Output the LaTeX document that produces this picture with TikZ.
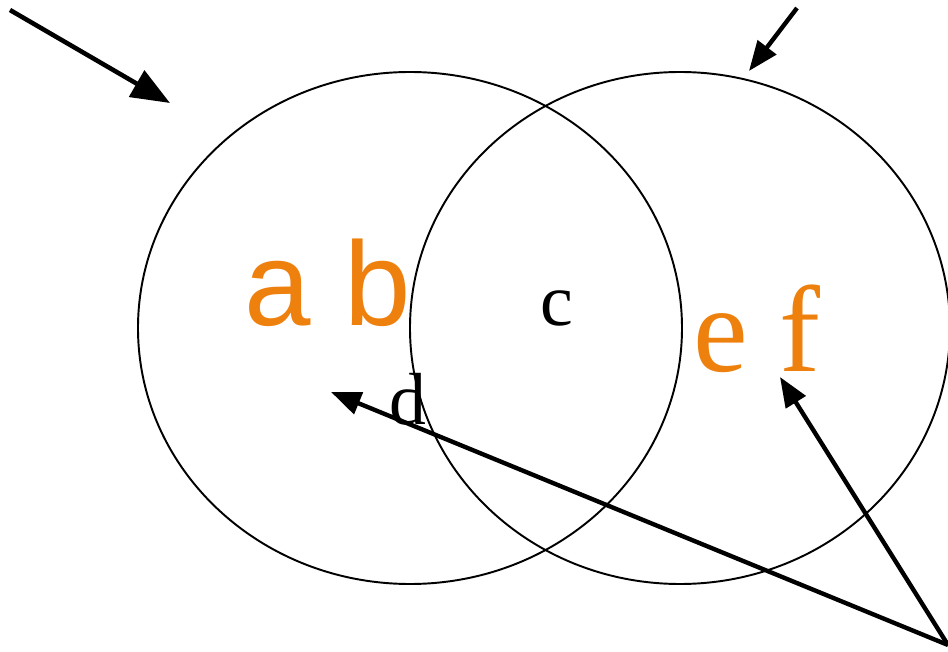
\documentclass[tikz,border=0pt]{standalone}
\usepackage{fontspec}
\setmainfont{Liberation Serif}
\newfontfamily\arialfont{Liberation Sans}
\usetikzlibrary{arrows.meta}
\definecolor{setorange}{RGB}{238,128,14}
\begin{document}
\begin{tikzpicture}[x=0.02cm,y=-0.02cm,
  setline/.style={line width=1.1pt},
  pointer/.style={line width=2.5pt,-{Triangle[length=17pt,width=13pt]}},
  bigpointer/.style={line width=2.6pt,-{Triangle[length=22pt,width=17pt]}}]
\useasboundingbox (0,0) rectangle (948,652);
\draw[setline] (410,328) ellipse [x radius=272,y radius=256];
\draw[setline] (680,328) ellipse [x radius=270,y radius=256];
\node[anchor=base,text=setorange,font=\arialfont\fontsize{68}{68}\selectfont] (ab) at (328,326) {a b};
\node[anchor=base,font=\fontsize{42}{42}\selectfont] (c) at (557,326) {c};
\node[anchor=base,text=setorange,font=\fontsize{70}{70}\selectfont] (ef) at (757,372) {e f};
\node[anchor=base,font=\fontsize{42}{42}\selectfont] (d) at (408,424) {d};
\coordinate (tl) at (10,10);
\coordinate (tlend) at (170,103);
\coordinate (tr) at (797,8);
\coordinate (trend) at (749,71);
\coordinate (br) at (948,645);
\coordinate (leftend) at (331,392);
\coordinate (rightend) at (780,377);
\draw[bigpointer] (tl) -- (tlend);
\draw[pointer] (tr) -- (trend);
\draw[pointer] (br) -- (leftend);
\draw[pointer] (br) -- (rightend);
\end{tikzpicture}
\end{document}
